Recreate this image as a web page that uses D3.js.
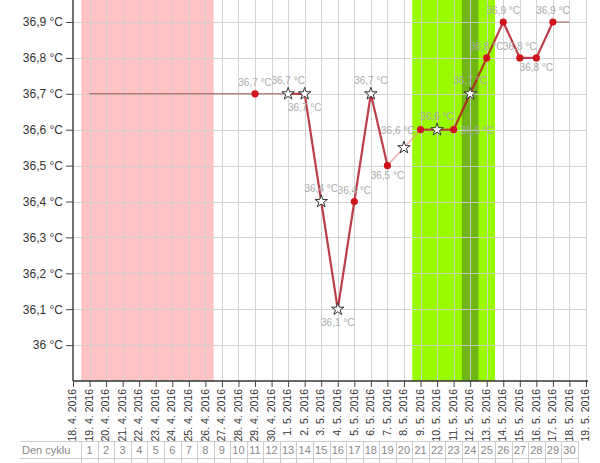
<!DOCTYPE html>
<html><head><meta charset="utf-8">
<script src="https://cdn.jsdelivr.net/npm/d3@7"></script>
<style>
body{margin:0;background:#fff}
svg{display:block;font-family:Arial,"Liberation Sans",sans-serif}
</style>
</head><body>
<svg id="chart" width="600" height="463"></svg>
<script>
// ---------- data ----------
const dates = ["18. 4. 2016","19. 4. 2016","20. 4. 2016","21. 4. 2016","22. 4. 2016","23. 4. 2016",
  "24. 4. 2016","25. 4. 2016","26. 4. 2016","27. 4. 2016","28. 4. 2016","29. 4. 2016","30. 4. 2016",
  "1. 5. 2016","2. 5. 2016","3. 5. 2016","4. 5. 2016","5. 5. 2016","6. 5. 2016","7. 5. 2016",
  "8. 5. 2016","9. 5. 2016","10. 5. 2016","11. 5. 2016","12. 5. 2016","13. 5. 2016","14. 5. 2016",
  "15. 5. 2016","16. 5. 2016","17. 5. 2016","18. 5. 2016","19. 5. 2016"];
const cycleDays = [1,2,3,4,5,6,7,8,9,10,11,12,13,14,15,16,17,18,19,20,21,22,23,24,25,26,27,28,29,30];
const temps = [null,36.7,36.7,36.7,36.7,36.7,36.7,36.7,36.7,36.7,36.7,36.7,null,
  36.7,36.7,36.4,36.1,36.4,36.7,36.5,36.55,36.6,36.6,36.6,36.7,36.8,36.9,36.8,36.8,36.9,36.9,null];
// f = filled (no marker), d = dot, s = star, x = disturbed star
const kinds = [null,"f","f","f","f","f","f","f","f","f","f","d",null,
  "s","s","s","s","d","s","d","x","d","s","d","s","d","d","d","d","d","f",null];
const labelPos = [null,null,null,null,null,null,null,null,null,null,null,"a",null,
  "a","b","a","b","a","a","b",null,"l","a","r","a","a","a","a","b","a",null,null];
const yTicks = [36.0,36.1,36.2,36.3,36.4,36.5,36.6,36.7,36.8,36.9];
const menstruation = [1, 8];
const fertileWindow = [21, 25];
const ovulation = [24, 24];
const rowLabel = "Den cyklu";

// ---------- setup ----------
const svg = d3.select("#chart");
const x = d3.scaleLinear().domain([0, dates.length - 1]).range([73, 586]);
const y = d3.scaleLinear().domain([35.9, 36.9]).range([381, 22]);
const cz = d3.formatLocale({decimal: ",", thousands: " ", grouping: [3], currency: ["", " Kč"]});
const fmt = v => cz.format("~f")(+v.toFixed(1)) + " °C";
const plotTop = 0, plotBottom = y(35.9);

// bands
const bands = [
  {r: menstruation, c: "#ffc3c3"},
  {r: fertileWindow, c: "#99fa00"},
  {r: ovulation, c: "#6fb515"}
];
svg.append("g").selectAll("rect").data(bands).join("rect")
  .attr("x", d => x(d.r[0] - 0.5)).attr("width", d => x(d.r[1] + 0.5) - x(d.r[0] - 0.5))
  .attr("y", plotTop).attr("height", plotBottom - plotTop).attr("fill", d => d.c);

// grid
const grid = svg.append("g").attr("stroke", "#cfcfcf").attr("stroke-width", 1).attr("opacity", 0.9);
grid.selectAll("line.v").data(d3.range(1, dates.length)).join("line").attr("class", "v")
  .attr("x1", d => Math.round(x(d)) + 0.5).attr("x2", d => Math.round(x(d)) + 0.5)
  .attr("y1", plotTop).attr("y2", plotBottom);
grid.selectAll("line.h").data(yTicks).join("line").attr("class", "h")
  .attr("x1", x(0)).attr("x2", x(dates.length - 1))
  .attr("y1", d => Math.round(y(d)) + 0.5).attr("y2", d => Math.round(y(d)) + 0.5);

// y axis
const yAxis = svg.append("g").attr("transform", `translate(${x(0)},0)`)
  .call(d3.axisLeft(y).tickValues(yTicks).tickSize(7).tickPadding(3).tickFormat(fmt));
yAxis.select(".domain").remove();
yAxis.selectAll(".tick line").attr("stroke", "#444");
yAxis.selectAll(".tick text").attr("font-size", 12).attr("fill", "#333")
  .attr("font-family", "Arial, 'Liberation Sans', sans-serif");
svg.append("line").attr("x1", x(0)).attr("x2", x(0)).attr("y1", plotTop).attr("y2", plotBottom)
  .attr("stroke", "#444").attr("stroke-width", 1.5);

// x axis
const xAxis = svg.append("g").attr("transform", `translate(0,${plotBottom})`)
  .call(d3.axisBottom(x).tickValues(d3.range(dates.length)).tickSize(6).tickFormat(i => dates[i]));
xAxis.select(".domain").remove();
xAxis.selectAll(".tick line").attr("stroke", "#444");
xAxis.selectAll(".tick text")
  .attr("transform", "rotate(-90)").attr("text-anchor", "end")
  .attr("x", -8).attr("y", -1).attr("dy", "0.35em")
  .attr("font-size", 10.5).attr("fill", "#333")
  .attr("font-family", "Arial, 'Liberation Sans', sans-serif");
svg.append("line").attr("x1", x(0)).attr("x2", x(dates.length - 1) + 2)
  .attr("y1", plotBottom).attr("y2", plotBottom).attr("stroke", "#333").attr("stroke-width", 1.5);

// data line segments
const pts = temps.map((v, i) => ({i, v, k: kinds[i], p: labelPos[i]})).filter(d => d.v != null);
const segs = d3.pairs(pts).map(([a, b]) => {
  let style = "main";
  if (a.k === "f" || b.k === "f" || b.i - a.i > 1) style = "thin";
  else if (a.k === "x" || b.k === "x") style = "faded";
  return {a, b, style};
});
const lineGen = d3.line().x(d => x(d.i)).y(d => y(d.v));
const segStyle = {
  main: {stroke: "rgb(178,28,40)", w: 2.2, o: 0.85},
  thin: {stroke: "rgb(150,60,60)", w: 1, o: 0.85},
  faded: {stroke: "rgb(235,150,150)", w: 1.6, o: 0.7}
};
svg.append("g").attr("fill", "none").selectAll("path").data(segs).join("path")
  .attr("d", d => lineGen([d.a, d.b]))
  .attr("stroke", d => segStyle[d.style].stroke)
  .attr("stroke-width", d => segStyle[d.style].w)
  .attr("stroke-opacity", d => segStyle[d.style].o);

// markers
svg.append("g").selectAll("circle").data(pts.filter(d => d.k === "d")).join("circle")
  .attr("cx", d => x(d.i)).attr("cy", d => y(d.v)).attr("r", 3.6).attr("fill", "#d0141c");
const star = d3.symbol(d3.symbolStar, 48);
svg.append("g").selectAll("path").data(pts.filter(d => d.k === "s" || d.k === "x")).join("path")
  .attr("d", star).attr("transform", d => `translate(${x(d.i)},${y(d.v)})`)
  .attr("fill", "#fff").attr("stroke", "#333").attr("stroke-width", 1);

// value labels
svg.append("g").selectAll("text").data(pts.filter(d => d.p)).join("text")
  .attr("font-size", 10).attr("fill", "#aaa")
  .attr("x", d => x(d.i) + (d.p === "l" ? -6 : d.p === "r" ? 7 : 0))
  .attr("y", d => {
    const isStar = d.k === "s";
    if (d.p === "a") return y(d.v) - (isStar ? 10 : 8);
    if (d.p === "b") return y(d.v) + (isStar ? 17 : 13);
    return y(d.v) + 4;
  })
  .attr("text-anchor", d => d.p === "l" ? "end" : d.p === "r" ? "start" : "middle")
  .text(d => fmt(d.v));

// cycle-day table
const tTop = 441, rowH = 17, tLeft = 20;
const table = svg.append("g");
const tRight = x(cycleDays.length + 0.5);
[tTop, tTop + rowH, tTop + 2 * rowH].forEach(yy => {
  table.append("line").attr("x1", tLeft).attr("x2", tRight)
    .attr("y1", yy + 0.5).attr("y2", yy + 0.5).attr("stroke", "#ccc");
});
table.selectAll("line.c").data(d3.range(0, cycleDays.length + 1)).join("line").attr("class", "c")
  .attr("x1", d => Math.round(x(d + 0.5)) + 0.5).attr("x2", d => Math.round(x(d + 0.5)) + 0.5)
  .attr("y1", tTop).attr("y2", tTop + 2 * rowH).attr("stroke", "#ccc");
table.append("text").attr("x", tLeft + 2).attr("y", tTop + 12.5)
  .attr("font-size", 11).attr("fill", "#888").text(rowLabel);
table.selectAll("text.d").data(cycleDays).join("text").attr("class", "d")
  .attr("x", (d, i) => x(i + 1)).attr("y", tTop + 12.5).attr("text-anchor", "middle")
  .attr("font-size", 11).attr("fill", "#888").text(d => d);
</script>
</body></html>
